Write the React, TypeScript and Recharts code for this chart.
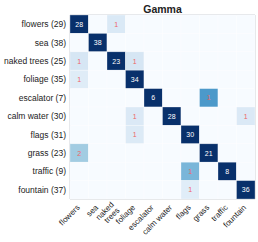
import React from 'react';
import { ScatterChart, Scatter, XAxis, YAxis, ReferenceArea } from 'recharts';

const classes = ['flowers', 'sea', 'naked trees', 'foliage', 'escalator', 'calm water', 'flags', 'grass', 'traffic', 'fountain'];
const xTickLines = [['flowers'], ['sea'], ['naked', 'trees'], ['foliage'], ['escalator'], ['calm water'], ['flags'], ['grass'], ['traffic'], ['fountain']];

const rowFlowers = [28, 0, 1, 0, 0, 0, 0, 0, 0, 0];
const rowSea = [0, 38, 0, 0, 0, 0, 0, 0, 0, 0];
const rowNakedTrees = [1, 0, 23, 1, 0, 0, 0, 0, 0, 0];
const rowFoliage = [1, 0, 0, 34, 0, 0, 0, 0, 0, 0];
const rowEscalator = [0, 0, 0, 0, 6, 0, 0, 1, 0, 0];
const rowCalmWater = [0, 0, 0, 1, 0, 28, 0, 0, 0, 1];
const rowFlags = [0, 0, 0, 1, 0, 0, 30, 0, 0, 0];
const rowGrass = [2, 0, 0, 0, 0, 0, 0, 21, 0, 0];
const rowTraffic = [0, 0, 0, 0, 0, 0, 1, 0, 8, 0];
const rowFountain = [0, 0, 0, 0, 0, 0, 1, 0, 0, 36];

const matrix = [rowFlowers, rowSea, rowNakedTrees, rowFoliage, rowEscalator, rowCalmWater, rowFlags, rowGrass, rowTraffic, rowFountain];
const totals = matrix.map((r) => r.reduce((a, b) => a + b, 0));
const indices = [0, 1, 2, 3, 4, 5, 6, 7, 8, 9];

const cells = matrix.flatMap((row, i) => row.map((v, j) => ({ x: j, y: i, v, frac: v / totals[i] })));

const W = 258;
const H = 242;
const M = { top: 15, right: 3, bottom: 43, left: 70 };
const cellW = (W - M.left - M.right) / 10;
const cellH = (H - M.top - M.bottom) / 10;

const BLUES = ['#f7fbff', '#deebf7', '#c6dbef', '#9ecae1', '#6baed6', '#4292c6', '#2171b5', '#08519c', '#08306b'];
function hexToRgb(h: string) {
  return [parseInt(h.slice(1, 3), 16), parseInt(h.slice(3, 5), 16), parseInt(h.slice(5, 7), 16)];
}
function blues(t: number) {
  const c = Math.max(0, Math.min(1, t)) * (BLUES.length - 1);
  const i = Math.min(BLUES.length - 2, Math.floor(c));
  const f = c - i;
  const a = hexToRgb(BLUES[i]);
  const b = hexToRgb(BLUES[i + 1]);
  const m = a.map((v, k) => Math.round(v + (b[k] - v) * f));
  return `rgb(${m[0]},${m[1]},${m[2]})`;
}

const FONT = '"Liberation Sans", Arial, sans-serif';

const CellShape = (props: any) => {
  const { cx, cy, payload } = props;
  if (cx == null || cy == null) return null;
  const fill = payload.v === 0 ? '#f7fbff' : blues(payload.frac / 0.24);
  const diag = payload.x === payload.y;
  return (
    <g>
      <rect x={cx - cellW / 2} y={cy - cellH / 2} width={cellW} height={cellH} fill={fill} stroke="#ffffff" strokeOpacity={0.5} strokeWidth={0.6} />
      {payload.v !== 0 && (
        <text x={cx} y={cy} textAnchor="middle" dominantBaseline="central" fontSize={7} fontFamily={FONT} fill={diag ? '#ffffff' : '#ee6468'}>
          {payload.v}
        </text>
      )}
    </g>
  );
};

const YTick = (props: any) => {
  const { x, y, payload } = props;
  const i = payload.value;
  return (
    <text x={x - 4} y={y} textAnchor="end" dominantBaseline="central" fontSize={8.5} fontFamily={FONT} fill="#222">
      {`${classes[i]} (${totals[i]})`}
    </text>
  );
};

const XTick = (props: any) => {
  const { x, y, payload } = props;
  const lines = xTickLines[payload.value];
  const n = lines.length;
  return (
    <g transform={`translate(${x - 1},${y + 7}) rotate(-45)`}>
      <text textAnchor="end" fontSize={8} fontFamily={FONT} fill="#222">
        {lines.map((l, k) => (
          <tspan key={k} x={0} dy={k === 0 ? `${0.35 - (n - 1) * 0.5}em` : '1em'}>{l}</tspan>
        ))}
      </text>
    </g>
  );
};

export default function App() {
  return (
    <div style={{ position: 'absolute', left: 0, top: 0, width: W, height: H, background: '#fff' }}>
      <div style={{ position: 'absolute', left: M.left, width: W - M.left - M.right, top: 3, textAlign: 'center', fontFamily: FONT, fontWeight: 'bold', fontSize: 10.5, color: '#222', lineHeight: '12px' }}>
        Gamma
      </div>
      <ScatterChart width={W} height={H} margin={{ top: M.top, right: M.right, bottom: 0, left: 0 }}>
        <XAxis
          type="number"
          dataKey="x"
          domain={[-0.5, 9.5]}
          ticks={indices}
          interval={0}
          allowDataOverflow
          tickLine={false}
          axisLine={false}
          tickSize={0}
          tickMargin={0}
          height={M.bottom}
          tick={<XTick />}
        />
        <YAxis
          type="number"
          dataKey="y"
          domain={[-0.5, 9.5]}
          ticks={indices}
          interval={0}
          reversed
          allowDataOverflow
          tickLine={false}
          axisLine={false}
          tickSize={0}
          tickMargin={0}
          width={M.left}
          tick={<YTick />}
        />
        <Scatter data={cells} shape={<CellShape />} isAnimationActive={false} />
        <ReferenceArea x1={-0.5} x2={9.5} y1={-0.5} y2={9.5} fill="none" stroke="#cfd3d8" strokeWidth={1} ifOverflow="visible" />
      </ScatterChart>
    </div>
  );
}
